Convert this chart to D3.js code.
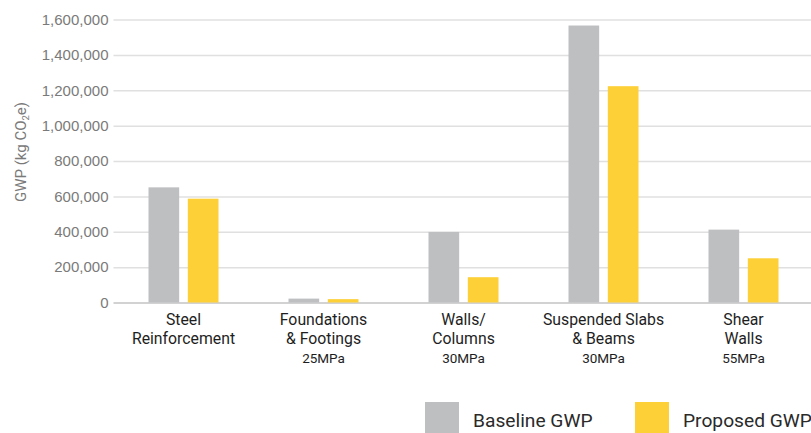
<!DOCTYPE html>
<html>
<head>
<meta charset="utf-8">
<script src="https://cdn.jsdelivr.net/npm/d3@7"></script>
<style>
  html, body { margin: 0; padding: 0; background: #fff; }
  svg { display: block; font-family: Roboto, "Noto Sans", sans-serif; }
</style>
</head>
<body>
<svg id="chart" width="811" height="433"></svg>
<script>
// Embodied carbon per structural element (kg CO2e)
const categories = [
  ["Steel", "Reinforcement"],
  ["Foundations", "& Footings"],
  ["Walls/", "Columns"],
  ["Suspended Slabs", "& Beams"],
  ["Shear", "Walls"]
];
const strengths = ["", "25MPa", "30MPa", "30MPa", "55MPa"];
const seriesNames = ["Baseline GWP", "Proposed GWP"];
const baseline = [651000, 22000, 399000, 1566000, 412000];
const proposed = [587000, 19000, 143000, 1223000, 250000];
const yTicks = [0, 200000, 400000, 600000, 800000, 1000000, 1200000, 1400000, 1600000];
const colors = ["#bebfc1", "#fdd038"];

const svg = d3.select("#chart");
const plot = { left: 113.5, right: 813.5, top: 19.5, bottom: 302.5 };

const x = d3.scaleBand()
  .domain(d3.range(categories.length))
  .range([plot.left, plot.right])
  .paddingInner(0.5)
  .paddingOuter(0.25);

const xs = d3.scaleBand()
  .domain(d3.range(seriesNames.length))
  .range([0, x.bandwidth()])
  .paddingInner(0.22);

const y = d3.scaleLinear().domain([0, 1600000]).range([plot.bottom, plot.top]);

// Gridlines and tick labels
const yAxis = d3.axisLeft(y)
  .tickValues(yTicks)
  .tickFormat(d3.format(","))
  .tickSize(-(811 - plot.left))
  .tickPadding(6);

const gy = svg.append("g")
  .attr("transform", `translate(${plot.left},0)`)
  .call(yAxis);
gy.select(".domain").remove();
gy.selectAll(".tick line")
  .attr("stroke", d => d === 0 ? "#d2d2d2" : "#e0e0e0")
  .attr("stroke-width", d => d === 0 ? 2 : 1.5);
gy.selectAll(".tick text")
  .attr("fill", "#7a7a7a")
  .attr("font-size", "15px")
  .attr("x", -5);

// Y axis title with subscript
const title = svg.append("text")
  .attr("transform", "translate(26,152) rotate(-90)")
  .attr("text-anchor", "middle")
  .attr("fill", "#7a7a7a")
  .attr("font-size", "15px");
title.append("tspan").text("GWP (kg CO");
title.append("tspan").attr("font-size", "9.5px").attr("dy", 3).text("2");
title.append("tspan").attr("dy", -3).text("e)");

// Bars
const data = categories.map((c, i) => [baseline[i], proposed[i]]);
const groups = svg.append("g").selectAll("g")
  .data(data)
  .join("g")
  .attr("transform", (d, i) => `translate(${x(i)},0)`);

groups.selectAll("rect")
  .data(d => d.map((v, k) => ({ v, k })))
  .join("rect")
  .attr("x", d => xs(d.k))
  .attr("width", xs.bandwidth())
  .attr("y", d => y(d.v))
  .attr("height", d => y(0) - y(d.v))
  .attr("fill", d => colors[d.k]);

// Category labels
const labels = svg.append("g").selectAll("text")
  .data(categories)
  .join("text")
  .attr("text-anchor", "middle")
  .attr("fill", "#1e1e1e")
  .attr("transform", (d, i) => `translate(${x(i) + x.bandwidth() / 2},0)`);

labels.each(function(d, i) {
  const t = d3.select(this);
  d.forEach((line, j) => {
    t.append("tspan").attr("x", 0).attr("y", 325 + j * 19)
      .attr("font-size", "15.8px").text(line);
  });
  if (strengths[i]) {
    t.append("tspan").attr("x", 0).attr("y", 363)
      .attr("font-size", "13.5px").text(strengths[i]);
  }
});

// Legend
const legendX = [425, 635];
const legend = svg.append("g").selectAll("g")
  .data(seriesNames)
  .join("g")
  .attr("transform", (d, i) => `translate(${legendX[i]},402)`);
legend.append("rect")
  .attr("width", 34).attr("height", 31)
  .attr("fill", (d, i) => colors[i]);
legend.append("text")
  .attr("x", 48).attr("y", 25)
  .attr("font-size", "19.2px")
  .attr("fill", "#2a2a2a")
  .text(d => d);
</script>
</body>
</html>
